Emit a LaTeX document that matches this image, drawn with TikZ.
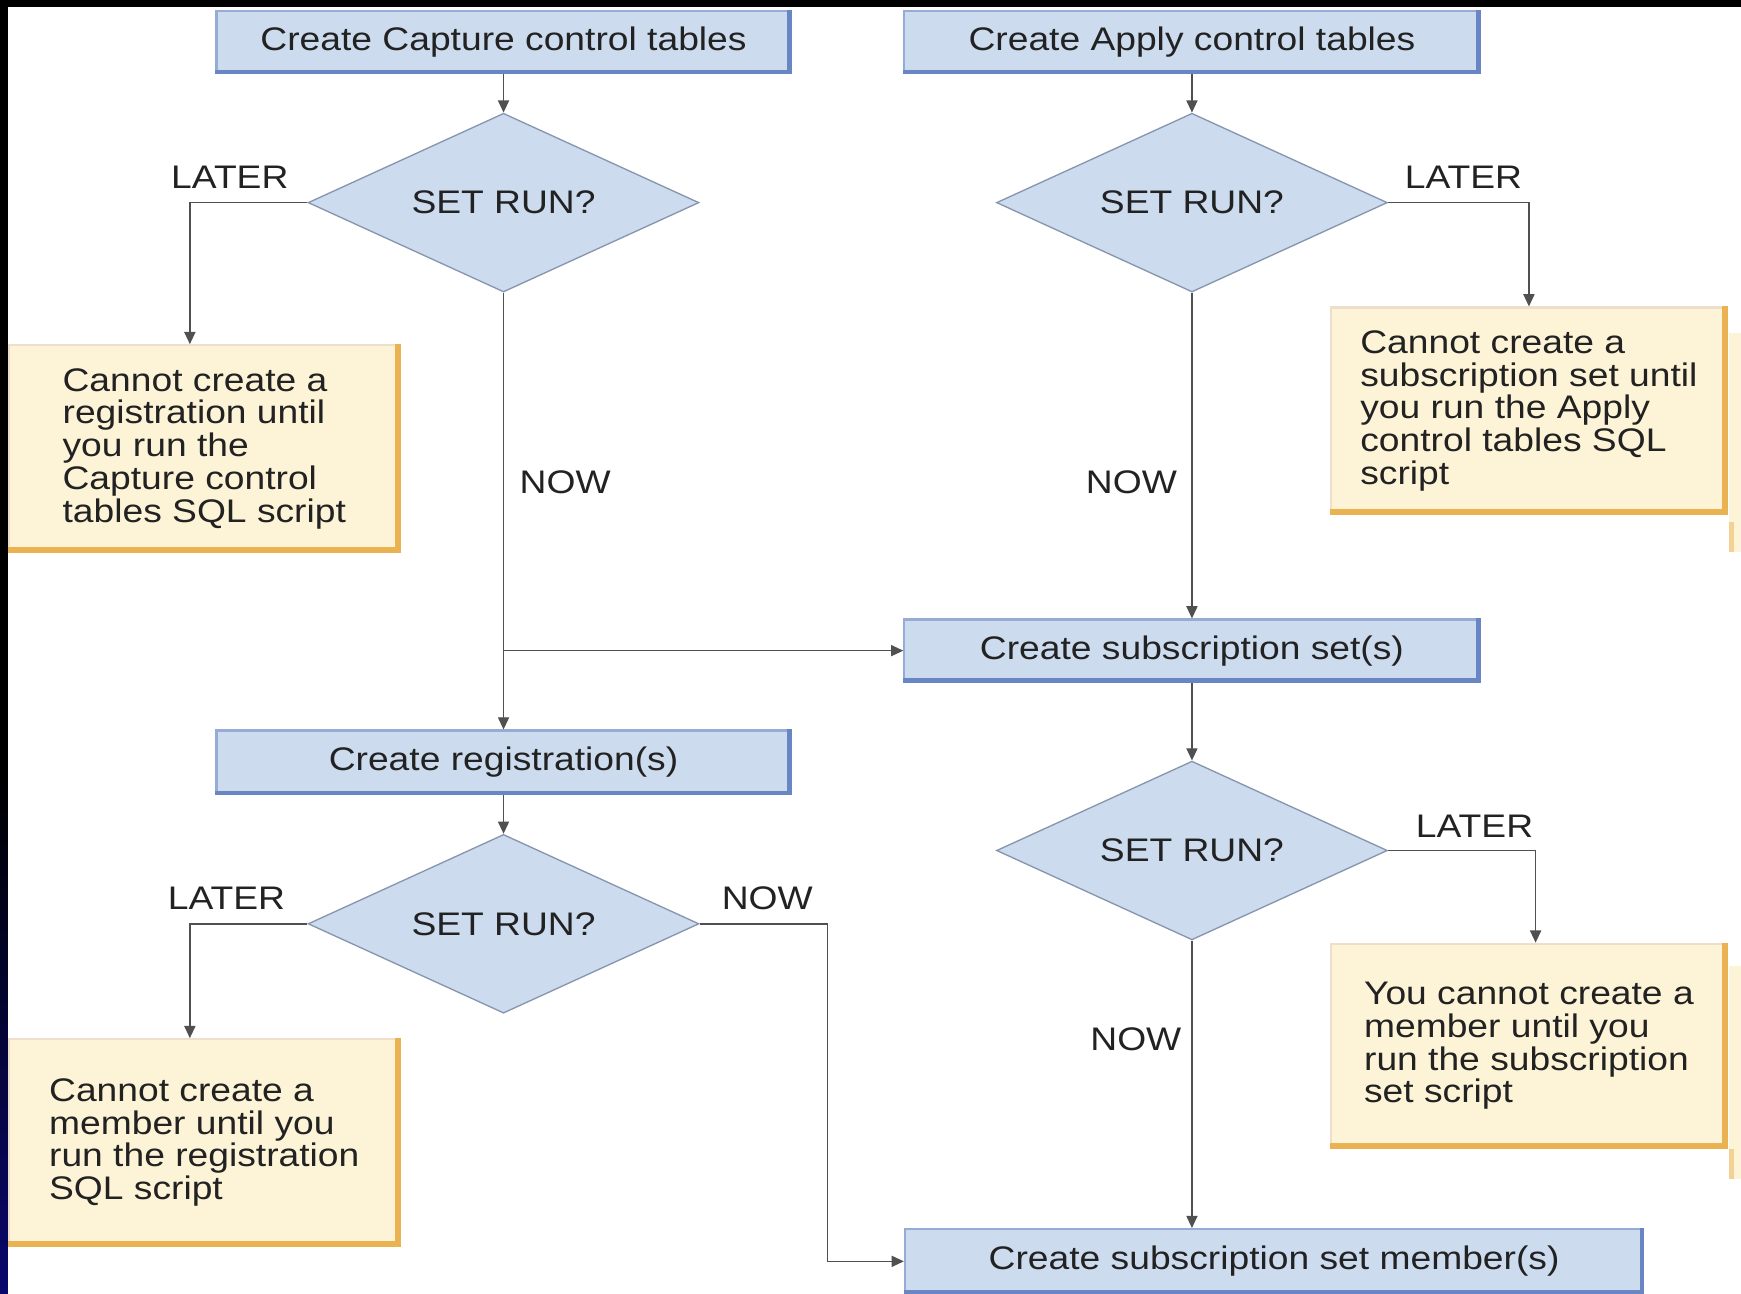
\documentclass[tikz,border=0pt]{standalone}
\usepackage{fontspec}
\setmainfont[FakeStretch=1.14]{Liberation Sans}
\usetikzlibrary{shapes.geometric,arrows.meta}
\definecolor{bfill}{RGB}{204,219,238}
\definecolor{bline}{RGB}{150,172,214}
\definecolor{bdark}{RGB}{105,134,196}
\definecolor{dline}{RGB}{135,150,175}
\definecolor{yfill}{RGB}{253,244,216}
\definecolor{yline}{RGB}{240,222,205}
\definecolor{ydark}{RGB}{234,178,80}
\definecolor{cline}{RGB}{80,80,80}
\definecolor{txt}{RGB}{34,34,34}
\definecolor{navy}{RGB}{8,8,110}
\begin{document}
\begin{tikzpicture}[x=0.5pt,y=-0.5pt,
  every node/.style={font=\fontsize{14.7}{14.75}\selectfont, text=txt},
  bbox/.style={rectangle, fill=bfill, draw=bline, line width=1pt, inner sep=0pt},
  dia/.style={diamond, fill=bfill, draw=dline, line width=0.6pt, inner sep=0pt, aspect=2.2,
              minimum width=176pt, minimum height=80.5pt},
  ybox/.style={rectangle, fill=yfill, draw=yline, line width=1pt, align=left, inner sep=0pt},
  lbl/.style={inner sep=0pt},
  conn/.style={draw=cline, line width=0.65pt, -{Triangle[length=5.5pt,width=5pt]}},
  bedge/.style={draw=bdark, line width=2pt},
  yedge/.style={draw=ydark, line width=2.6pt}]
\useasboundingbox (0,0) rectangle (1568,1165);
% background frame
\fill[black] (0,0) rectangle (1568,1165);
\shade[top color=black, bottom color=navy] (0,700) rectangle (7,1165);
\fill[white] (7,6) rectangle (1568,1165);
% faint ghost strips at right edge
\fill[yfill] (1557,300) rectangle (1568,497);
\fill[ydark!60] (1557,470) rectangle (1562,497);
\fill[yfill] (1557,870) rectangle (1568,1062);
\fill[ydark!60] (1557,1035) rectangle (1562,1062);

% blue process boxes
\node[bbox, minimum width=258.5pt, minimum height=28pt] (a) at (453.5,38) {Create Capture control tables};
\node[bbox, minimum width=259pt, minimum height=28pt] (b) at (1073.5,38) {Create Apply control tables};
\node[bbox, minimum width=259pt, minimum height=28pt] (c) at (1073.5,586) {Create subscription set(s)};
\node[bbox, minimum width=258.5pt, minimum height=28.5pt] (d) at (453.5,686.5) {Create registration(s)};
\node[bbox, minimum width=332.5pt, minimum height=29pt] (e) at (1147.5,1136) {Create subscription set member(s)};
\foreach \n in {a,b,c,d,e}{
  \draw[bedge] ([yshift=1pt]\n.south west) -- ([xshift=-1pt,yshift=1pt]\n.south east) -- ([xshift=-1pt]\n.north east);
}

% decisions
\node[dia] (d1) at (453.5,182.5) {SET RUN?};
\node[dia] (d2) at (1073.5,182.5) {SET RUN?};
\node[dia] (d3) at (453.5,832) {SET RUN?};
\node[dia] (d4) at (1073.5,766) {SET RUN?};

% yellow notes
\node[ybox, minimum width=176pt, minimum height=93pt] (y1) at (184,404)
  {Cannot create a\\registration until\\you run the\\Capture control\\tables SQL script};
\node[ybox, minimum width=178pt, minimum height=93pt] (y2) at (1377,370)
  {Cannot create a\\subscription set until\\you run the Apply\\control tables SQL\\script};
\node[ybox, minimum width=176pt, minimum height=93pt] (y3) at (184,1029)
  {Cannot create a\\member until you\\run the registration\\SQL script};
\node[ybox, minimum width=178pt, minimum height=92pt] (y4) at (1377,942)
  {You cannot create a\\member until you\\run the subscription\\set script};
\foreach \n in {y1,y2,y3,y4}{
  \draw[yedge] ([yshift=1.3pt]\n.south west) -- ([xshift=-1.3pt,yshift=1.3pt]\n.south east) -- ([xshift=-1.3pt]\n.north east);
}

% connectors
\draw[conn] (a.south) -- (d1.north);
\draw[conn] (b.south) -- (d2.north);
\draw[conn] (d1.west) -| ([xshift=-6.5pt]y1.north);
\draw[conn] (d2.east) -| (y2.north);
\draw[conn] (d1.south) -- (d.north);
\draw[conn] (d1.south |- c.west) -- (c.west);
\draw[conn] (d2.south) -- (c.north);
\draw[conn] (c.south) -- (d4.north);
\draw[conn] (d4.east) -| ([xshift=3pt]y4.north);
\draw[conn] (d4.south) -- (d4.south |- e.north);
\draw[conn] (d.south) -- (d3.north);
\draw[conn] (d3.west) -| ([xshift=-6.5pt]y3.north);
\draw[conn] (d3.east) -- ++(57.5pt,0) |- (e.west);

% branch labels
\node[lbl] (l1) at (207,160) {LATER};
\node[lbl] (l2) at (1318,160) {LATER};
\node[lbl] (l3) at (1328,744) {LATER};
\node[lbl] (l4) at (204,809) {LATER};
\node[lbl] (n1) at (509,434) {NOW};
\node[lbl] (n2) at (1019,434) {NOW};
\node[lbl] (n3) at (1023,936) {NOW};
\node[lbl] (n4) at (691,809) {NOW};
\end{tikzpicture}
\end{document}
